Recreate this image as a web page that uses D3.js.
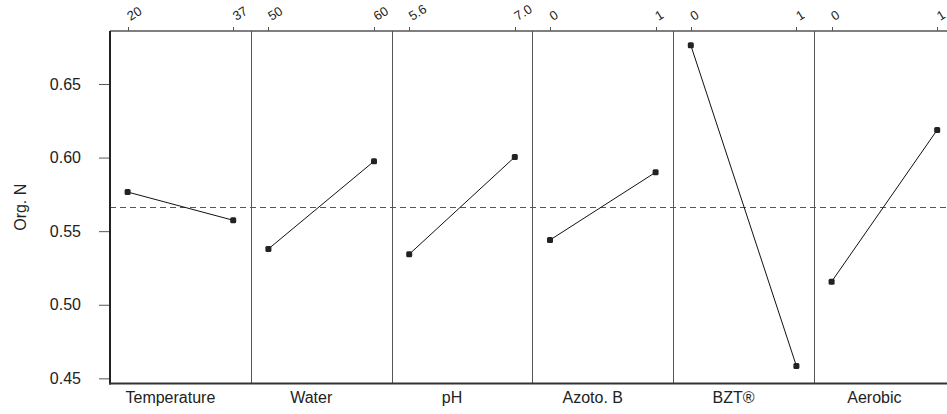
<!DOCTYPE html>
<html>
<head>
<meta charset="utf-8">
<script src="https://cdn.jsdelivr.net/npm/d3@7"></script>
<style>
  html, body { margin: 0; padding: 0; background: #fff; }
  svg { display: block; font-family: "Liberation Sans", Arial, sans-serif; }
</style>
</head>
<body>
<svg id="chart" width="947" height="414"></svg>
<script>
// ---- data ----
const factors = ["Temperature", "Water", "pH", "Azoto. B", "BZT®", "Aerobic"];
const levelLabels = [["20", "37"], ["50", "60"], ["5.6", "7.0"], ["0", "1"], ["0", "1"], ["0", "1"]];
const levelMeans = [
  [0.5766, 0.5574],
  [0.5379, 0.5975],
  [0.5343, 0.6004],
  [0.5440, 0.5900],
  [0.6763, 0.4584],
  [0.5157, 0.6188]
];
const grandMean = 0.5665;
const yTicks = [0.45, 0.50, 0.55, 0.60, 0.65];
const yTitle = "Org. N";

// ---- layout ----
const svg = d3.select("#chart");
const plotLeft = 110, plotTop = 31, plotBottom = 383.5;
const panelW = 140.8;
const crisp = v => Math.round(v) + 0.5;

const y = d3.scaleLinear().domain([0.4465, 0.686]).range([plotBottom, plotTop]);
const panel = d3.scaleBand().domain(factors).range([plotLeft, plotLeft + panelW * factors.length]).padding(0);

// dashed grand mean line
svg.append("line")
  .attr("x1", plotLeft).attr("x2", 947)
  .attr("y1", crisp(y(grandMean))).attr("y2", crisp(y(grandMean)))
  .attr("stroke", "#e8161b").attr("stroke-width", 1)
  .attr("stroke-dasharray", "6,4");

// panel dividers
factors.slice(1).forEach(f => {
  svg.append("line")
    .attr("x1", crisp(panel(f))).attr("x2", crisp(panel(f)))
    .attr("y1", plotTop).attr("y2", plotBottom)
    .attr("stroke", "#555").attr("stroke-width", 1);
});

// top line
svg.append("line")
  .attr("x1", plotLeft).attr("x2", 947)
  .attr("y1", plotTop).attr("y2", plotTop)
  .attr("stroke", "#555").attr("stroke-width", 1.3);

factors.forEach((f, i) => {
  const x0 = panel(f);
  const xs = d3.scalePoint().domain(levelLabels[i]).range([x0, x0 + panelW]).padding(1 / 6);

  // top ticks + rotated labels
  const g = svg.append("g");
  levelLabels[i].forEach(l => {
    g.append("line")
      .attr("x1", crisp(xs(l))).attr("x2", crisp(xs(l)))
      .attr("y1", plotTop - 4).attr("y2", plotTop)
      .attr("stroke", "#555").attr("stroke-width", 1);
    g.append("text")
      .attr("transform", `translate(${xs(l) + 3},${21}) rotate(-32)`)
      .attr("font-size", 13).attr("fill", "#222")
      .attr("text-anchor", "start")
      .text(l);
  });

  // line + markers
  const pts = levelLabels[i].map((l, j) => [xs(l), y(levelMeans[i][j])]);
  svg.append("path")
    .attr("d", d3.line()(pts))
    .attr("fill", "none").attr("stroke", "#111").attr("stroke-width", 1);
  svg.selectAll(null).data(pts).enter().append("rect")
    .attr("x", d => d[0] - 3).attr("y", d => d[1] - 3)
    .attr("width", 6).attr("height", 6).attr("rx", 1.5)
    .attr("fill", "#222");

  // factor label at bottom
  svg.append("text")
    .attr("x", x0 + panelW / 2 - 10).attr("y", 403)
    .attr("text-anchor", "middle")
    .attr("font-size", 16).attr("fill", "#222")
    .text(f);
});

// left axis
const yAxis = d3.axisLeft(y).tickValues(yTicks).tickFormat(d3.format(".2f")).tickSize(11).tickPadding(18);
const ga = svg.append("g").attr("transform", `translate(${plotLeft},0)`).call(yAxis);
ga.select(".domain").remove();
ga.selectAll(".tick line").attr("stroke", "#555").attr("stroke-width", 1);
ga.selectAll(".tick text").attr("font-size", 16).attr("fill", "#222")
  .attr("font-family", "Liberation Sans, Arial, sans-serif");

svg.append("line")
  .attr("x1", plotLeft).attr("x2", plotLeft)
  .attr("y1", plotTop).attr("y2", plotBottom + 1)
  .attr("stroke", "#222").attr("stroke-width", 2);

// bottom line
svg.append("line")
  .attr("x1", plotLeft - 1).attr("x2", 947)
  .attr("y1", plotBottom).attr("y2", plotBottom)
  .attr("stroke", "#333").attr("stroke-width", 2);

// y title
svg.append("text")
  .attr("transform", `translate(26,${(plotTop + plotBottom) / 2}) rotate(-90)`)
  .attr("text-anchor", "middle")
  .attr("font-size", 16).attr("fill", "#222")
  .text(yTitle);
</script>
</body>
</html>
